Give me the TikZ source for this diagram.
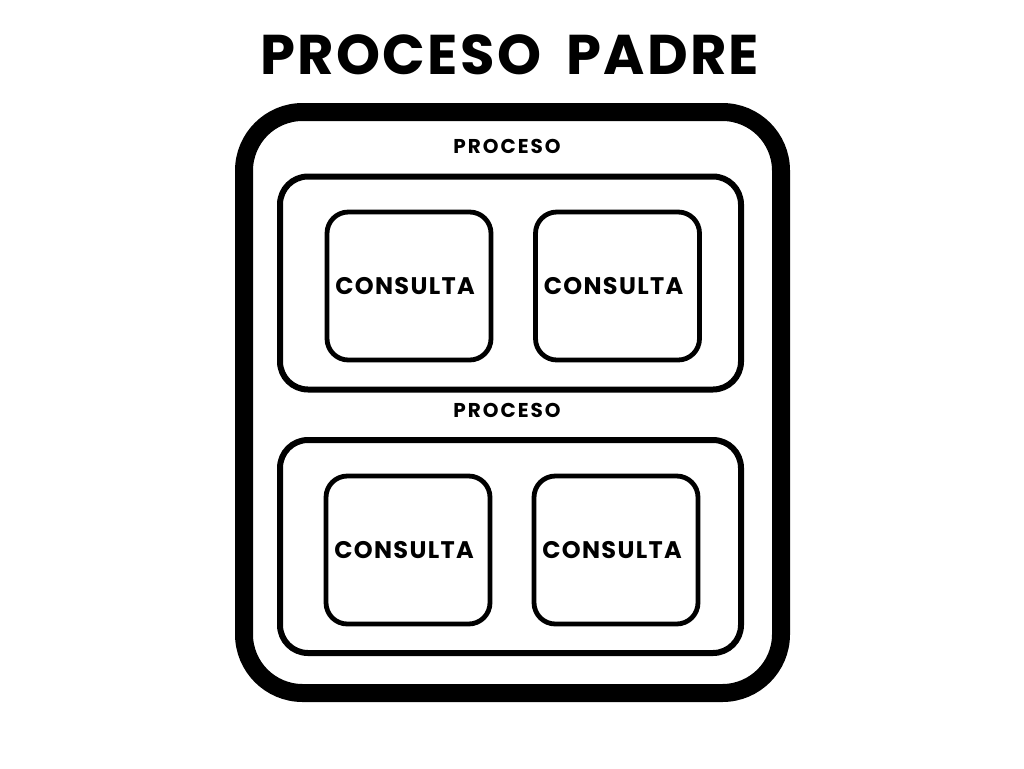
\documentclass[tikz,border=0pt]{standalone}
\usepackage{fontspec}
\setmainfont{Poppins}
\newfontfamily\headfont{Poppins}[LetterSpace=4,WordSpace=1.8]
\newfontfamily\labfont{Poppins}[LetterSpace=10]
\newfontfamily\qfont{Poppins}[LetterSpace=5.5]
\usetikzlibrary{positioning}

\begin{document}
\begin{tikzpicture}[x=0.75pt,y=-0.75pt, every node/.style={align=center,inner sep=0pt}, frame/.style={draw=black,rounded corners=44pt,line width=13.5pt,minimum width=537*0.75pt,minimum height=581*0.75pt}, procbox/.style={draw=black,rounded corners=21pt,line width=4.5pt,minimum width=461*0.75pt,minimum height=213*0.75pt}, qbox/.style={draw=black,rounded corners=16pt,line width=3.6pt,minimum width=164*0.75pt,minimum height=148*0.75pt}, title/.style={font=\headfont\bfseries\fontsize{42}{48}\selectfont}, proc/.style={font=\labfont\bfseries\fontsize{15}{18}\selectfont}, query/.style={font=\qfont\bfseries\fontsize{18}{22}\selectfont,xshift=-3pt}]
\useasboundingbox (0,0) rectangle (1024,768);
\node[title] (padre) at (510,55) {PROCESO PADRE};
\node[frame] (outer) at (512.5,402.5) {};
\node[proc] (procA) at (507,146) {PROCESO};
\node[procbox] (boxA) at (510.5,283) {};
\node[qbox] (qA1) at (409,286) {};
\node[qbox] (qA2) at (617.5,286) {};
\node[query] (tA1) at (qA1) {CONSULTA};
\node[query] (tA2) at (qA2) {CONSULTA};
\node[proc] (procB) at (507,410) {PROCESO};
\node[procbox] (boxB) at (510.5,546.5) {};
\node[qbox] (qB1) at (408,550) {};
\node[qbox] (qB2) at (616,550) {};
\node[query] (tB1) at (qB1) {CONSULTA};
\node[query] (tB2) at (qB2) {CONSULTA};
\end{tikzpicture}
\end{document}
